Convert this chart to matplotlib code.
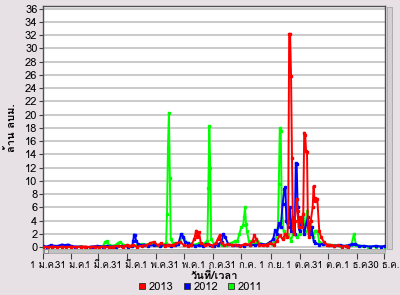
import numpy as np
import matplotlib
matplotlib.use('Agg')
import matplotlib.pyplot as plt
from matplotlib import font_manager
from matplotlib.ft2font import FT2Font
from matplotlib.patches import Rectangle
from matplotlib.lines import Line2D

# look for an installed font that has Thai glyphs
thai_font = None
for f in font_manager.fontManager.ttflist:
    try:
        if 0x0E27 in FT2Font(f.fname).get_charmap():
            thai_font = f.name
            break
    except Exception:
        pass
plt.rcParams['font.family'] = [thai_font, 'DejaVu Sans'] if thai_font else ['DejaVu Sans']

#%% data (day of year, million m3)
days_2013 = [0,5,10,15,20,25,30,35,40,45,50,55,60,65,70,75,80,85,89,92,96,100,105,110,114,118,122,126,130,134,
             138,142,146,150,154,158,161,163,164,166,168,172,176,180,184,186,188,190,193,197,201,205,210,215,220,
             223,225,227,230,234,238,242,246,249,252,255,258,260,261,262,263,264,265,266,267,268,270,271,272,274,
             276,277,278,279,280,281,282,283,285,287,288,289,290,292,294,296,299,302,306,310,314,318,322,325]
vals_2013 = [0.1,0.0,0.1,0.0,0.1,0.0,0.1,0.0,0.1,0.1,0.0,0.1,0.0,0.1,0.0,0.1,0.2,0.1,0.3,0.2,0.3,0.1,0.2,0.3,0.6,0.8,0.3,0.6,0.2,0.4,
             0.3,0.6,0.8,0.3,0.2,0.4,1.2,2.5,1.5,2.3,0.6,0.3,0.5,0.2,0.6,1.2,1.8,0.6,0.3,0.5,0.3,0.4,0.2,0.5,0.4,
             1.0,1.8,1.2,0.4,0.3,0.4,0.6,0.3,1.0,1.8,1.2,2.0,1.5,4.0,32.2,32.2,25.9,13.4,3.0,2.0,4.0,7.2,5.5,3.0,4.5,
             3.0,5.0,17.3,17.0,14.5,14.3,3.0,1.5,4.0,6.0,9.2,7.0,7.4,7.2,2.5,1.5,0.8,0.4,0.3,0.2,0.3,0.1,0.2,0.1]

days_2012 = [0,4,8,12,16,20,24,27,30,34,40,46,52,58,64,68,72,78,84,90,95,96,97,98,99,101,104,108,112,118,124,130,
             136,140,144,147,149,151,154,158,162,166,170,174,178,182,186,190,192,194,197,202,208,214,220,226,232,238,
             242,245,247,249,251,253,255,257,258,259,261,263,264,266,268,269,270,271,273,274,276,278,280,282,284,286,
             288,290,294,298,304,310,316,322,326,329,332,336,342,348,354,360,364]
vals_2012 = [0.2,0.1,0.3,0.2,0.2,0.4,0.3,0.4,0.2,0.1,0.1,0.0,0.1,0.2,0.1,0.2,0.1,0.1,0.2,0.1,0.2,1.0,1.9,1.8,1.0,0.5,0.3,0.4,0.2,0.3,0.2,0.3,
             0.2,0.3,0.5,2.0,1.6,0.8,0.6,0.4,0.2,0.3,0.2,0.5,0.3,0.2,0.4,0.8,2.0,1.5,0.5,0.3,0.3,0.2,0.4,0.3,0.5,0.4,
             0.8,1.2,2.6,2.0,3.6,3.0,6.5,8.8,9.1,4.0,3.0,6.0,2.5,4.5,2.0,12.7,12.5,6.0,2.5,4.0,4.6,2.0,3.5,4.5,2.0,3.0,
             1.0,0.6,0.4,0.5,0.3,0.2,0.3,0.2,0.3,0.5,0.5,0.2,0.2,0.1,0.2,0.1,0.2]

days_2011 = [0,10,20,30,40,50,60,64,66,68,70,75,80,82,85,89,95,100,105,110,115,120,126,130,131,132,133,134,135,136,
             138,142,146,148,150,154,158,162,166,170,174,175,176,177,178,179,182,186,190,195,200,204,207,209,211,213,
             214,215,216,217,219,222,226,228,232,236,240,244,247,249,250,251,252,253,254,256,258,261,264,267,270,273,
             275,277,279,281,283,285,287,290,292,294,298,304,310,316,322,328,331,333,338,346,354,364]
vals_2011 = [0.0,0.0,0.1,0.0,0.1,0.0,0.1,0.2,0.8,0.9,0.3,0.2,0.6,0.8,0.4,0.3,0.2,0.3,0.5,0.4,0.6,0.3,0.3,0.5,0.6,5.0,15.0,20.3,10.5,1.2,
             0.6,0.5,0.8,2.0,1.2,0.6,0.5,0.4,0.6,0.5,0.8,1.0,9.0,18.3,12.0,1.2,0.5,0.3,0.4,0.3,0.6,0.9,1.0,2.0,3.0,3.3,
             4.5,6.0,3.5,2.5,1.0,0.5,0.6,1.0,0.5,0.4,0.6,0.5,1.0,2.0,3.0,9.6,18.0,17.5,7.0,2.5,1.5,2.0,1.0,2.5,1.5,2.0,
             3.0,5.0,2.5,5.4,3.0,4.0,1.5,2.5,2.5,0.8,0.5,0.4,0.3,0.2,0.2,0.3,2.0,0.4,0.2,0.1,0.1,0.1]

tick_days = [0, 30, 59, 89, 120, 150, 181, 211, 243, 273, 303, 334, 363]
tick_labels = ['1 ม.ค.', '31 ม.ค.', '1 มี.ค.', '31 มี.ค.', '1 พ.ค.', '31 พ.ค.', '1 ก.ค.',
               '31 ก.ค.', '1 ก.ย.', '1 ต.ค.', '31 ต.ค.', '1 ธ.ค.', '30 ธ.ค.']
y_ticks = np.arange(0, 37, 2)

bg = '#e7e1e5'
c13, c12, c11 = '#ff0000', '#0000ff', '#00ff00'

#%% figure
fig = plt.figure(figsize=(4, 2.95), dpi=100, facecolor=bg)
ax = fig.add_axes([43/400, 1-248.5/295, 342/400, 242.5/295])
ax.set_facecolor('white')

ax.plot(days_2011, vals_2011, color=c11, lw=1.4, marker='s', ms=1.6, zorder=3)
ax.plot(days_2012, vals_2012, color=c12, lw=1.4, marker='s', ms=1.6, zorder=4)
ax.plot(days_2013, vals_2013, color=c13, lw=1.4, marker='s', ms=1.6, zorder=5)

ax.set_xlim(0, 364)
ax.set_ylim(-0.2, 36.4)
ax.set_yticks(y_ticks)
ax.set_xticks(tick_days)
ax.set_xticklabels(tick_labels)
ax.yaxis.grid(True, color='#c6c6c6', lw=1.3)
ax.set_axisbelow(True)
ax.tick_params(axis='y', length=3, width=0.8, pad=1, labelsize=8, color='#404040')
ax.tick_params(axis='x', length=7, width=0.8, pad=2, labelsize=6.9, color='#404040')
for s in ['left', 'top', 'right']:
    ax.spines[s].set_color('#505050')
    ax.spines[s].set_linewidth(1.0)
ax.spines['bottom'].set_visible(False)

ax.set_ylabel('ล้าน ลบม.', fontsize=8, fontweight='bold', labelpad=6)
ax.set_xlabel('วันที่/เวลา', fontsize=8, fontweight='bold', labelpad=0)

# scroll bars
fig.add_artist(Rectangle((43/400, 1-253/295), 342/400, 4.5/295, transform=fig.transFigure,
                         facecolor='#c2c2c2', edgecolor='#a0a0a0', lw=0.5, zorder=2))
fig.add_artist(Rectangle((44/400, 1-253/295), 4/400, 4.5/295, transform=fig.transFigure,
                         facecolor='#e0e0e0', edgecolor='#707070', lw=0.5, zorder=3))
fig.add_artist(Rectangle((387/400, 1-249/295), 5/400, 242/295, transform=fig.transFigure,
                         facecolor='#d4d0d2', edgecolor='#a6a6a6', lw=0.6, zorder=2))

handles = [Line2D([], [], ls='none', marker='s', ms=5, mfc=c, mec='#303030', mew=0.6)
           for c in [c13, c12, c11]]
fig.legend(handles, ['2013', '2012', '2011'], loc='center', bbox_to_anchor=(0.5, 1-287/295),
           ncol=3, frameon=False, fontsize=8, handletextpad=0.2, columnspacing=0.8, handlelength=0.8)

fig.savefig('out.png', dpi=100, facecolor=bg)
